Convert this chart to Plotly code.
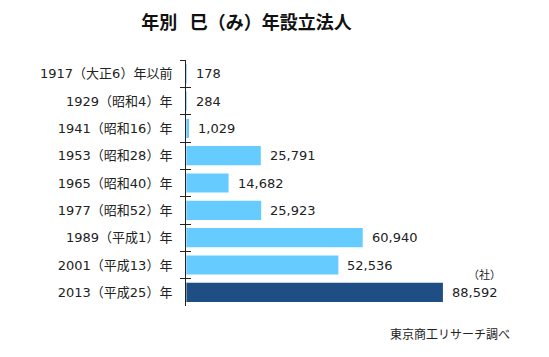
import plotly.graph_objects as go

categories = ["1917（大正6）年以前", "1929（昭和4）年", "1941（昭和16）年", "1953（昭和28）年",
              "1965（昭和40）年", "1977（昭和52）年", "1989（平成1）年", "2001（平成13）年",
              "2013（平成25）年"]
values = [178, 284, 1029, 25791, 14682, 25923, 60940, 52536, 88592]
colors = ["#66CCFF"] * 8 + ["#1F4E85"]

FONT = "DejaVu Sans, Noto Sans CJK JP, sans-serif"
W, H = 549, 357
pl, pr, pt, pb = 186, 15, 60, 51
pw, ph = W - pl - pr, H - pt - pb

fig = go.Figure()
fig.add_trace(go.Bar(
    x=values, y=categories, orientation="h",
    marker=dict(color=colors, line=dict(width=0)),
    hoverinfo="skip", showlegend=False,
))
# overlay axis for the inner half of the crossing ticks
fig.add_trace(go.Bar(x=[0] * len(categories), y=categories, orientation="h",
                     yaxis="y2", showlegend=False, hoverinfo="skip",
                     marker=dict(color="rgba(0,0,0,0)")))

for c, v in zip(categories, values):
    fig.add_annotation(x=v, y=c, text=f"{v:,}", showarrow=False, xanchor="left",
                       xshift=7, font=dict(family=FONT, size=13, color="#222222"))

fig.add_annotation(text="（社）", x=(484 - pl) / pw, y=1 - (275 - pt) / ph, xref="paper", yref="paper",
                   showarrow=False, xanchor="center", yanchor="middle",
                   font=dict(family=FONT, size=11, color="#222222"))
fig.add_annotation(text="東京商工リサーチ調べ", x=(512 - pl) / pw, y=1 - (335 - pt) / ph,
                   xref="paper", yref="paper", showarrow=False, xanchor="right", yanchor="middle",
                   font=dict(family=FONT, size=12, color="#222222"))

fig.update_layout(
    width=W, height=H,
    margin=dict(l=pl, r=pr, t=pt, b=pb),
    paper_bgcolor="white", plot_bgcolor="white",
    bargap=0.3,
    font=dict(family=FONT, size=13, color="#222222"),
    title=dict(text="<b>年別\u00a0\u00a0巳（み）年設立法人</b>", x=246.5 / W, xanchor="center",
               xref="container", y=1 - 23 / H, yanchor="middle", yref="container",
               font=dict(family=FONT, size=18, color="#111111")),
    xaxis=dict(range=[0, 120000], visible=False, fixedrange=True),
    yaxis=dict(categoryorder="array", categoryarray=categories, autorange="reversed",
               showline=True, linecolor="#222222", linewidth=1,
               ticks="outside", tickson="boundaries", ticklen=5, tickcolor="#222222",
               showgrid=False, zeroline=False, ticklabelstandoff=10,
               tickfont=dict(family=FONT, size=13, color="#222222")),
    yaxis2=dict(overlaying="y", side="left", categoryorder="array", categoryarray=categories,
                autorange="reversed", showline=False, ticks="inside", tickson="boundaries",
                ticklen=5, tickcolor="#222222", showticklabels=False, showgrid=False,
                zeroline=False),
)

fig.write_html("out.html")
